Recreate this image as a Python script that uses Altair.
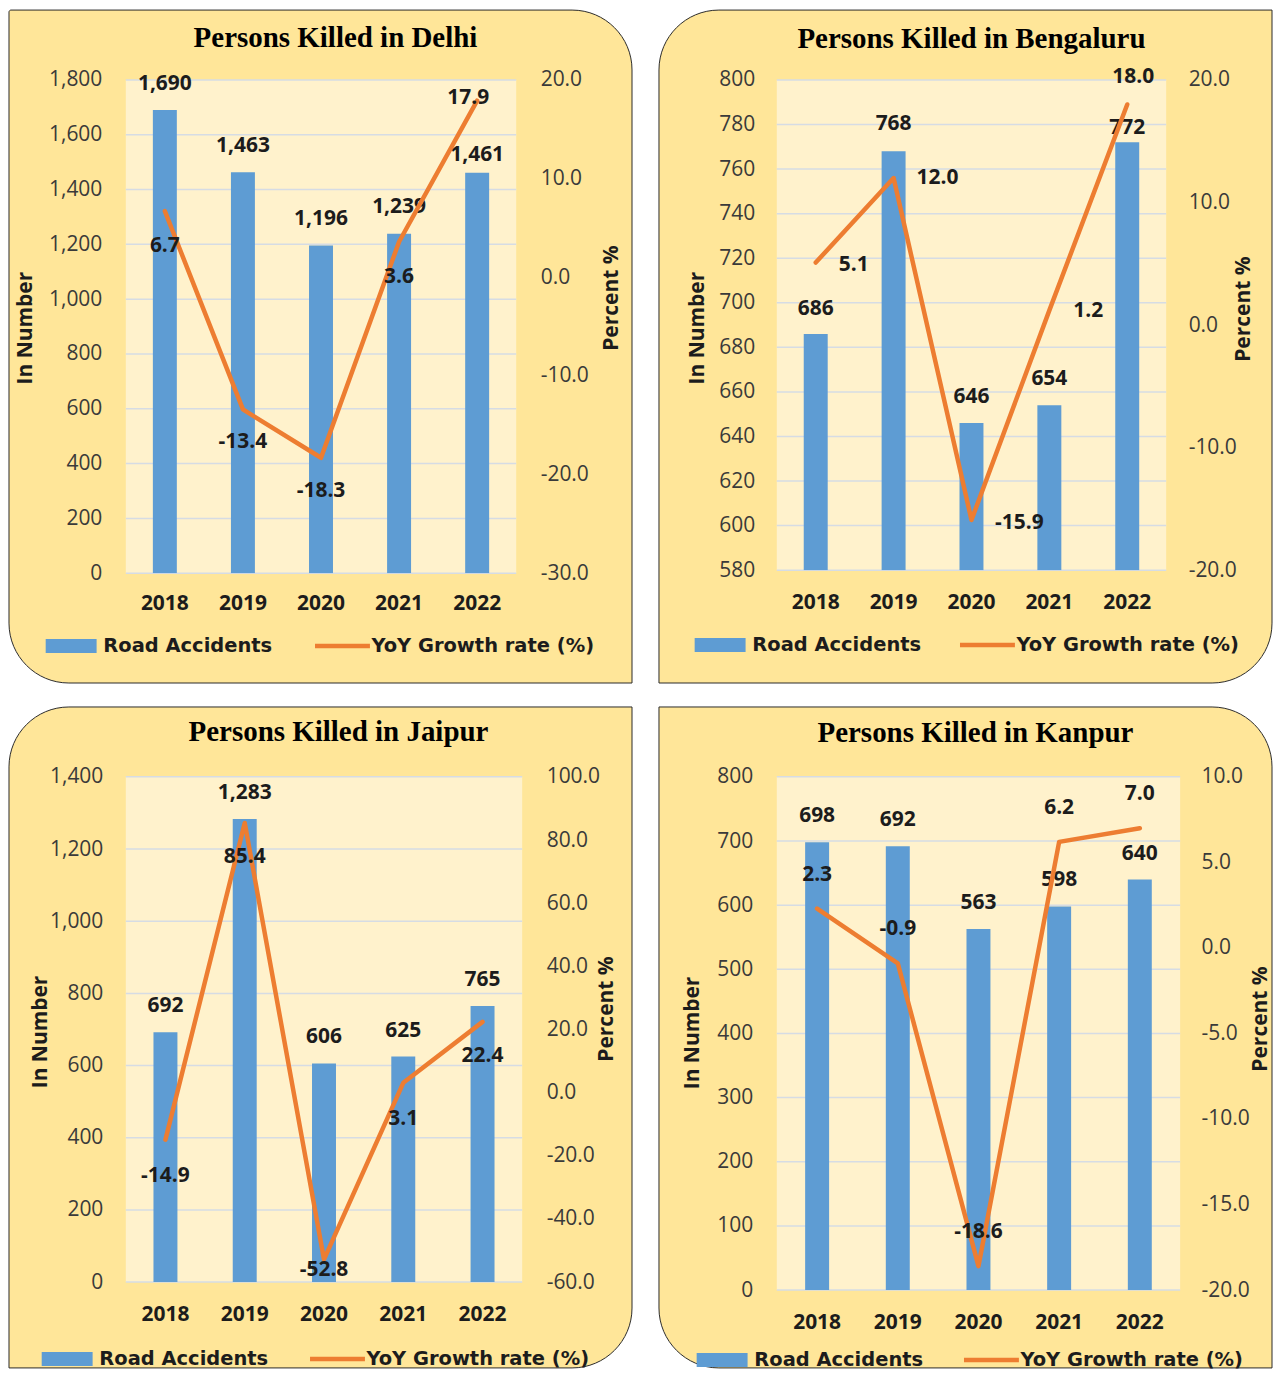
import altair as alt
import pandas as pd

# ---------------- data ----------------
years = ["2018", "2019", "2020", "2021", "2022"]

delhi_killed = [1690, 1463, 1196, 1239, 1461]
delhi_yoy = [6.7, -13.4, -18.3, 3.6, 17.9]

bengaluru_killed = [686, 768, 646, 654, 772]
bengaluru_yoy = [5.1, 12.0, -15.9, 1.2, 18.0]

jaipur_killed = [692, 1283, 606, 625, 765]
jaipur_yoy = [-14.9, 85.4, -52.8, 3.1, 22.4]

kanpur_killed = [698, 692, 563, 598, 640]
kanpur_yoy = [2.3, -0.9, -18.6, 6.2, 7.0]

delhi_left_ticks = [0, 200, 400, 600, 800, 1000, 1200, 1400, 1600, 1800]
delhi_right_ticks = [-30, -20, -10, 0, 10, 20]
bengaluru_left_ticks = [580, 600, 620, 640, 660, 680, 700, 720, 740, 760, 780, 800]
bengaluru_right_ticks = [-20, -10, 0, 10, 20]
jaipur_left_ticks = [0, 200, 400, 600, 800, 1000, 1200, 1400]
jaipur_right_ticks = [-60, -40, -20, 0, 20, 40, 60, 80, 100]
kanpur_left_ticks = [0, 100, 200, 300, 400, 500, 600, 700, 800]
kanpur_right_ticks = [-20, -15, -10, -5, 0, 5, 10]

bar_series = "Road Accidents"
line_series = "YoY Growth rate (%)"
left_title = "In Number"
right_title = "Percent %"

# ---------------- style ----------------
PANEL = "#FFE699"
PLOT = "#FFF2CC"
BORDER = "#2b2b2b"
BAR = "#5E9CD3"
LINE = "#ED7D31"
GRID = "#D6DCE4"
DARK = "#1c1c1c"
TICK = "#3a3a3a"
SANS = "Open Sans"
SERIF = "Liberation Serif"
LEGF = "DejaVu Sans"
MINUS_FIX = "replace(datum.label, '\u2212', '-')"

# legend swatches: small nominal symbol size, wide custom paths
BAR_SYM_SIZE = 196            # sqrt = 14 px -> path unit = 7 px
BAR_SYM_PATH = "M-3.643,-1H3.643V1H-3.643Z"   # 51 x 14 px
LINE_SYM_SIZE = 100           # sqrt = 10 px -> path unit = 5 px
LINE_SYM_PATH = "M-5.5,0H5.5"                 # 55 px long

# layout of each panel, relative to its plot area (pixels)
layouts = {
    "Delhi": dict(w=391, h=494, rect=(-117, -70, 507, 604), radii=(2, 60, 0, 60),
                  title=(210, -42), lpad=24, rpad=24, xpad=19,
                  ltitle=(-100, 248), rtitle=(95, 218),
                  leg=(-79, 191, 567),
                  bar_off=[(0, -26), (0, -26), (0, -27), (0, -27), (0, -18)],
                  line_off=[(0, 35), (0, 33), (0, 33), (0, 35), (-9, -3)]),
    "Bengaluru": dict(w=390, h=491, rect=(-118, -70, 496, 604), radii=(60, 0, 60, 0),
                      title=(195, -41), lpad=22, rpad=22, xpad=21,
                      ltitle=(-79, 248), rtitle=(77, 229),
                      leg=(-81, 185, 566),
                      bar_off=[(0, -25), (0, -27), (0, -26), (0, -26), (0, -14)],
                      line_off=[(38, 2), (44, 0), (48, 3), (39, 1), (6, -28)]),
    "Jaipur": dict(w=397, h=506, rect=(-117, -70, 507, 592), radii=(60, 0, 60, 0),
                   title=(213, -45), lpad=23, rpad=24, xpad=21,
                   ltitle=(-85, 255), rtitle=(84, 232),
                   leg=(-83, 186, 583),
                   bar_off=[(0, -26)] * 5,
                   line_off=[(0, 36), (0, 34), (0, 11), (0, 36), (0, 34)]),
    "Kanpur": dict(w=404, h=514, rect=(-118, -70, 496, 592), radii=(0, 60, 0, 60),
                   title=(199, -44), lpad=24, rpad=21, xpad=22,
                   ltitle=(-84, 256), rtitle=(80, 242),
                   leg=(-79, 189, 584),
                   bar_off=[(0, -26)] * 5,
                   line_off=[(0, -34)] * 5),
}

LEG_SHIFT = -4   # measured legend offset correction


def make_panel(city, killed, yoy, lticks, rticks):
    L = layouts[city]
    w, h = L["w"], L["h"]
    df = pd.DataFrame({
        "year": years, "killed": killed, "yoy": yoy,
        "killed_label": [f"{v:,}" for v in killed],
        "yoy_label": [f"{v:.1f}" for v in yoy],
        "bar_series": [bar_series] * len(years),
        "line_series": [line_series] * len(years),
    })
    one = pd.DataFrame({"k": [0]})
    grid_df = pd.DataFrame({"v": lticks})

    x_enc = alt.X(
        "year:N", sort=years,
        scale=alt.Scale(paddingInner=0, paddingOuter=0),
        axis=alt.Axis(title=None, labelAngle=0, domain=False, ticks=False, tickSize=0,
                      labelPadding=L["xpad"], labelFont=SANS, labelFontSize=21,
                      labelFontWeight="bold", labelColor=DARK, zindex=1),
    )
    y_left = alt.Y(
        "killed:Q", stack=None,
        scale=alt.Scale(domain=[lticks[0], lticks[-1]], nice=False, zero=False),
        axis=alt.Axis(orient="left", values=lticks, format=",.0f", grid=False, domain=False,
                      ticks=False, tickSize=0, labelPadding=L["lpad"], labelFont=SANS,
                      labelFontSize=21, labelColor=TICK, title=left_title,
                      titleFont=SANS, titleFontSize=21, titleFontWeight="bold",
                      titleColor=DARK, titleAngle=270, titleAlign="center",
                      titleBaseline="middle", titleX=L["ltitle"][0], titleY=L["ltitle"][1],
                      labelOverlap=False, zindex=1),
    )
    y_right = alt.Y(
        "yoy:Q",
        scale=alt.Scale(domain=[rticks[0], rticks[-1]], nice=False, zero=False),
        axis=alt.Axis(orient="right", values=rticks, format=".1f", labelExpr=MINUS_FIX,
                      grid=False, domain=False,
                      ticks=False, tickSize=0, labelPadding=L["rpad"], labelFont=SANS,
                      labelFontSize=21, labelColor=TICK, title=right_title,
                      titleFont=SANS, titleFontSize=21, titleFontWeight="bold",
                      titleColor=DARK, titleAngle=270, titleAlign="center",
                      titleBaseline="middle", titleX=L["rtitle"][0], titleY=L["rtitle"][1],
                      labelOverlap=False, zindex=1),
    )

    x1, y1, x2, y2 = L["rect"]
    tl, tr, br, bl = L["radii"]
    bg = alt.Chart(one).mark_rect(
        fill=PANEL, stroke=BORDER, strokeWidth=1,
        cornerRadiusTopLeft=tl, cornerRadiusTopRight=tr,
        cornerRadiusBottomRight=br, cornerRadiusBottomLeft=bl,
    ).encode(x=alt.value(x1), x2=alt.value(x2), y=alt.value(y1), y2=alt.value(y2))

    plot_bg = alt.Chart(one).mark_rect(fill=PLOT).encode(
        x=alt.value(0), x2=alt.value(w), y=alt.value(0), y2=alt.value(h))

    title = alt.Chart(one).mark_text(
        text=f"Persons Killed in {city}", font=SERIF, fontSize=29, fontWeight="bold",
        color="black", align="center", baseline="middle",
    ).encode(x=alt.value(L["title"][0]), y=alt.value(L["title"][1]))

    grid = alt.Chart(grid_df).mark_rule(color=GRID, strokeWidth=1.5).encode(
        y=alt.Y("v:Q", scale=alt.Scale(domain=[lticks[0], lticks[-1]], nice=False, zero=False),
                axis=None))

    bar_left, line_left, leg_cy = L["leg"]
    bars = alt.Chart(df).mark_bar(size=24, clip=True).encode(
        x=x_enc, y=y_left,
        fill=alt.Fill("bar_series:N",
                      scale=alt.Scale(domain=[bar_series], range=[BAR]),
                      legend=alt.Legend(title=None, orient="none",
                                        legendX=bar_left + 18.5 + LEG_SHIFT,
                                        legendY=leg_cy - 9.75,
                                        symbolType=BAR_SYM_PATH, symbolSize=BAR_SYM_SIZE,
                                        symbolStrokeWidth=0, symbolOpacity=1,
                                        labelFont=LEGF, labelFontSize=19.5,
                                        labelFontWeight="bold", labelColor=DARK,
                                        labelOffset=22.5, labelLimit=400, padding=0)),
    )
    bar_labels = []
    for yr, (dx, dy) in zip(years, L["bar_off"]):
        bar_labels.append(
            alt.Chart(df).transform_filter(alt.datum.year == yr).mark_text(
                font=SANS, fontSize=21, fontWeight="bold", color=DARK,
                align="center", baseline="middle", dx=dx, dy=dy,
            ).encode(x=x_enc, y=y_left, text="killed_label:N")
        )
    bar_group = alt.layer(bars, *bar_labels)

    line = alt.Chart(df).mark_line(strokeWidth=4.5, strokeJoin="round", strokeCap="round").encode(
        x=x_enc, y=y_right,
        stroke=alt.Stroke("line_series:N",
                          scale=alt.Scale(domain=[line_series], range=[LINE]),
                          legend=alt.Legend(title=None, orient="none",
                                            legendX=line_left + 20.25 + LEG_SHIFT,
                                            legendY=leg_cy - 9.75,
                                            symbolType=LINE_SYM_PATH, symbolSize=LINE_SYM_SIZE,
                                            symbolStrokeWidth=4.5, symbolOpacity=1,
                                            labelFont=LEGF, labelFontSize=19.5,
                                            labelFontWeight="bold", labelColor=DARK,
                                            labelOffset=19.25, labelLimit=400, padding=0)),
    )
    line_labels = []
    for yr, (dx, dy) in zip(years, L["line_off"]):
        line_labels.append(
            alt.Chart(df).transform_filter(alt.datum.year == yr).mark_text(
                font=SANS, fontSize=21, fontWeight="bold", color=DARK,
                align="center", baseline="middle", dx=dx, dy=dy,
            ).encode(x=x_enc, y=y_right, text="yoy_label:N")
        )
    line_group = alt.layer(line, *line_labels)

    return alt.layer(bg, plot_bg, title, grid, bar_group, line_group).resolve_scale(
        y="independent").properties(width=w, height=h)


p1 = make_panel("Delhi", delhi_killed, delhi_yoy, delhi_left_ticks, delhi_right_ticks)
p2 = make_panel("Bengaluru", bengaluru_killed, bengaluru_yoy, bengaluru_left_ticks, bengaluru_right_ticks)
p3 = make_panel("Jaipur", jaipur_killed, jaipur_yoy, jaipur_left_ticks, jaipur_right_ticks)
p4 = make_panel("Kanpur", kanpur_killed, kanpur_yoy, kanpur_left_ticks, kanpur_right_ticks)

chart = alt.concat(
    p1, p2, p3, p4, columns=2, spacing={"row": 22, "column": 25}, align="each", bounds="full"
).resolve_scale(fill="independent", stroke="independent").resolve_legend(
    fill="independent", stroke="independent"
).properties(padding=0, background="white").configure_view(stroke=None, fill=None)

chart.save("out.html", embed_options={"renderer": "svg", "actions": False})
